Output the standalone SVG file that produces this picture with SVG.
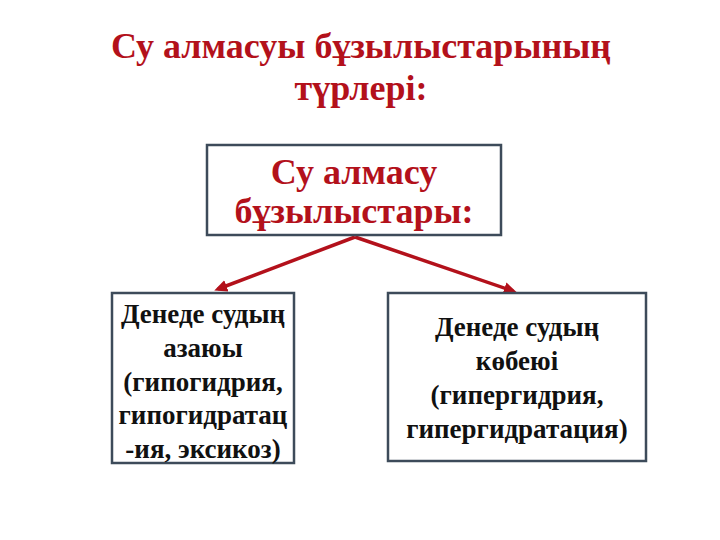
<svg xmlns="http://www.w3.org/2000/svg" width="720" height="540" viewBox="0 0 720 540">
<defs>
<style>
.title{font-family:'Liberation Serif','DejaVu Serif',serif;font-weight:700;fill:#b3111b;text-anchor:middle}
.body{font-family:'Liberation Serif','DejaVu Serif',serif;font-weight:700;fill:#111;text-anchor:middle;font-size:27px}
.box{fill:#fff;stroke:#3d4b5a;stroke-width:2.5}
.conn{stroke:#b3111b;stroke-width:3.5;fill:none}
</style>
<marker id="ah" markerWidth="13" markerHeight="12" refX="9" refY="6" orient="auto" markerUnits="userSpaceOnUse" viewBox="0 0 13 12">
<path d="M0,0 L13,6 L0,12 z" fill="#b3111b"/>
</marker>
</defs>
<rect width="720" height="540" fill="#fff"/>
<g id="title">
<text class="title" x="361" y="58" font-size="36">Су алмасуы бұзылыстарының</text>
<text class="title" x="361" y="100" font-size="36">түрлері:</text>
</g>
<g id="connectors">
<path class="conn" d="M355,237 L218,289" marker-end="url(#ah)"/>
<path class="conn" d="M355,237 L513,291" marker-end="url(#ah)"/>
</g>
<g id="top">
<rect class="box" x="207" y="145" width="294" height="90"/>
<text class="title" x="354" y="184" font-size="36">Су алмасу</text>
<text class="title" x="354" y="223" font-size="36">бұзылыстары:</text>
</g>
<g id="left">
<rect class="box" x="112" y="293" width="182" height="170"/>
<text class="body" x="203" y="323">Денеде судың</text>
<text class="body" x="203" y="357">азаюы</text>
<text class="body" x="203" y="391">(гипогидрия,</text>
<text class="body" x="203" y="424">гипогидратац</text>
<text class="body" x="203" y="458">-ия, эксикоз)</text>
</g>
<g id="right">
<rect class="box" x="388" y="293" width="258" height="168"/>
<text class="body" x="517" y="336">Денеде судың</text>
<text class="body" x="517" y="370">көбеюі</text>
<text class="body" x="517" y="404">(гипергидрия,</text>
<text class="body" x="517" y="438">гипергидратация)</text>
</g>
</svg>
